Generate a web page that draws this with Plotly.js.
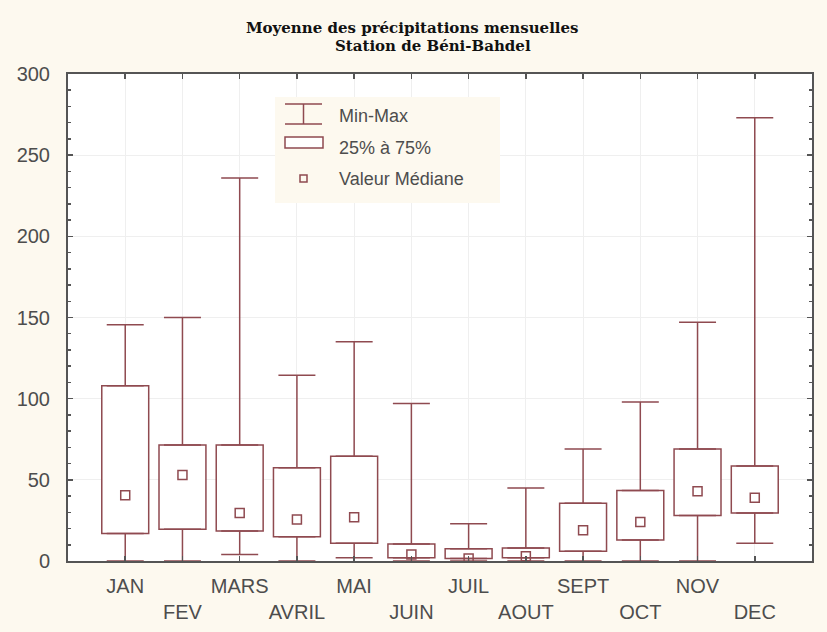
<!DOCTYPE html>
<html>
<head>
<meta charset="utf-8">
<script src="https://cdn.plot.ly/plotly-3.0.1.min.js"></script>
<style>
  html, body { margin: 0; padding: 0; background: #fdf9ef; }
  #chart { width: 827px; height: 632px; }
</style>
</head>
<body>
<div id="chart"></div>
<script>
// Monthly rainfall at Béni-Bahdel station (mm): min, quartiles, median, max
const months  = ['JAN', 'FEV', 'MARS', 'AVRIL', 'MAI', 'JUIN', 'JUIL', 'AOUT', 'SEPT', 'OCT', 'NOV', 'DEC'];
const minVal  = [0, 0, 4, 0, 2, 0, 0, 0, 0, 0, 0, 11];
const q1      = [17, 19.5, 18.5, 15, 11, 2, 1.5, 2, 6, 13, 28, 29.5];
const median  = [40.5, 53, 29.5, 25.5, 27, 4, 1.5, 3, 19, 24, 43, 39];
const q3      = [108, 71.5, 71.5, 57.5, 64.5, 10.5, 7.5, 8, 35.5, 43.5, 69, 58.5];
const maxVal  = [145.5, 150, 236, 114.5, 135, 97, 23, 45, 69, 98, 147, 273];

const legendItems = ['Min-Max', '25% à 75%', 'Valeur Médiane'];
const titleLines  = ['Moyenne des précipitations mensuelles', 'Station de Béni-Bahdel'];

const ink   = '#8f4a50';
const axisC = '#555555';
const W = 827, H = 632;
const M = { l: 68, r: 15, t: 74, b: 71 };

// pixel -> paper helpers for the hand-built legend and title
const plotW = W - M.l - M.r, plotH = H - M.t - M.b;
const px = x => (x - M.l) / plotW;
const py = y => (H - M.b - y) / plotH;

const upperWhisker = {
  type: 'scatter', mode: 'markers', x: months, y: q3,
  marker: { size: 1, opacity: 0 },
  error_y: {
    type: 'data', symmetric: false,
    array: maxVal.map((v, i) => v - q3[i]),
    arrayminus: q3.map(() => 0),
    color: ink, thickness: 1.5, width: 18.5
  },
  hoverinfo: 'skip', showlegend: false
};

const lowerWhisker = {
  type: 'scatter', mode: 'markers', x: months, y: q1,
  marker: { size: 1, opacity: 0 },
  error_y: {
    type: 'data', symmetric: false,
    array: q1.map(() => 0),
    arrayminus: minVal.map((v, i) => q1[i] - v),
    color: ink, thickness: 1.5, width: 18.5
  },
  hoverinfo: 'skip', showlegend: false
};

const boxes = {
  type: 'bar', x: months, base: q1,
  y: q3.map((v, i) => v - q1[i]),
  width: 0.82,
  marker: { color: 'rgba(255,255,255,1)', line: { color: ink, width: 1.5 } },
  showlegend: false
};

const medians = {
  type: 'scatter', mode: 'markers', x: months, y: median,
  marker: { symbol: 'square-open', size: 9, color: ink, line: { width: 1.5, color: ink } },
  showlegend: false
};

const tickFont = { family: 'Liberation Sans, Arial, sans-serif', size: 20, color: '#4d4d4d' };
const legFont  = { family: 'Liberation Sans, Arial, sans-serif', size: 18, color: '#4d4d4d' };
const titleFont = { family: 'DejaVu Serif, Liberation Serif, serif', size: 15, color: '#111', weight: 'bold' };

// legend block: background, whisker icon, box icon, median icon
const shapes = [
  { type: 'rect', xref: 'paper', yref: 'paper', x0: px(275), x1: px(500), y0: py(203), y1: py(97),
    fillcolor: '#fdf9ef', line: { width: 0 }, layer: 'above' },
  { type: 'line', xref: 'paper', yref: 'paper', x0: px(285), x1: px(322), y0: py(104), y1: py(104), line: { color: ink, width: 1.5 } },
  { type: 'line', xref: 'paper', yref: 'paper', x0: px(285), x1: px(322), y0: py(124), y1: py(124), line: { color: ink, width: 1.5 } },
  { type: 'line', xref: 'paper', yref: 'paper', x0: px(303.5), x1: px(303.5), y0: py(124), y1: py(104), line: { color: ink, width: 1.5 } },
  { type: 'rect', xref: 'paper', yref: 'paper', x0: px(285), x1: px(323), y0: py(148), y1: py(137),
    fillcolor: 'white', line: { color: ink, width: 1.5 } },
  { type: 'rect', xref: 'paper', yref: 'paper', x0: px(300), x1: px(307), y0: py(182), y1: py(175),
    fillcolor: 'rgba(0,0,0,0)', line: { color: ink, width: 1.5 } }
];

const legendRows = [116, 148, 179];
const annotations = legendItems.map((t, i) => ({
  xref: 'paper', yref: 'paper', x: px(337), y: py(legendRows[i]),
  xanchor: 'left', yanchor: 'middle', showarrow: false, text: t, font: legFont
})).concat([
  { xref: 'paper', yref: 'paper', x: px(412.5), y: py(28), xanchor: 'center', yanchor: 'middle',
    showarrow: false, text: titleLines[0], font: titleFont },
  { xref: 'paper', yref: 'paper', x: px(433), y: py(46), xanchor: 'center', yanchor: 'middle',
    showarrow: false, text: titleLines[1], font: titleFont }
]);

const layout = {
  width: W, height: H,
  margin: M,
  paper_bgcolor: '#fdf9ef',
  plot_bgcolor: '#ffffff',
  showlegend: false,
  barmode: 'overlay',
  xaxis: {
    type: 'category', range: [-1, 12],
    tickmode: 'array', tickvals: months,
    ticktext: months.map((m, i) => (i % 2 ? '<br>' + m : m)),
    tickangle: 0, automargin: false,
    tickfont: tickFont,
    ticks: 'inside', ticklen: 5, tickwidth: 1.5, tickcolor: axisC,
    ticklabelstandoff: 6,
    showline: true, linecolor: axisC, linewidth: 2, mirror: 'ticks',
    showgrid: true, gridcolor: '#efefef', gridwidth: 1,
    zeroline: false
  },
  yaxis: {
    range: [0, 300], dtick: 50, tick0: 0,
    tickfont: tickFont, automargin: false,
    ticks: 'inside', ticklen: 5, tickwidth: 1.5, tickcolor: axisC,
    ticklabelstandoff: 12,
    minor: { dtick: 10, ticks: 'inside', ticklen: 3, tickcolor: axisC, showgrid: false },
    showline: true, linecolor: axisC, linewidth: 2, mirror: 'ticks',
    showgrid: true, gridcolor: '#efefef', gridwidth: 1,
    zeroline: false
  },
  shapes: shapes,
  annotations: annotations
};

Plotly.newPlot('chart', [upperWhisker, lowerWhisker, boxes, medians], layout,
  { staticPlot: true, displayModeBar: false });
</script>
</body>
</html>
